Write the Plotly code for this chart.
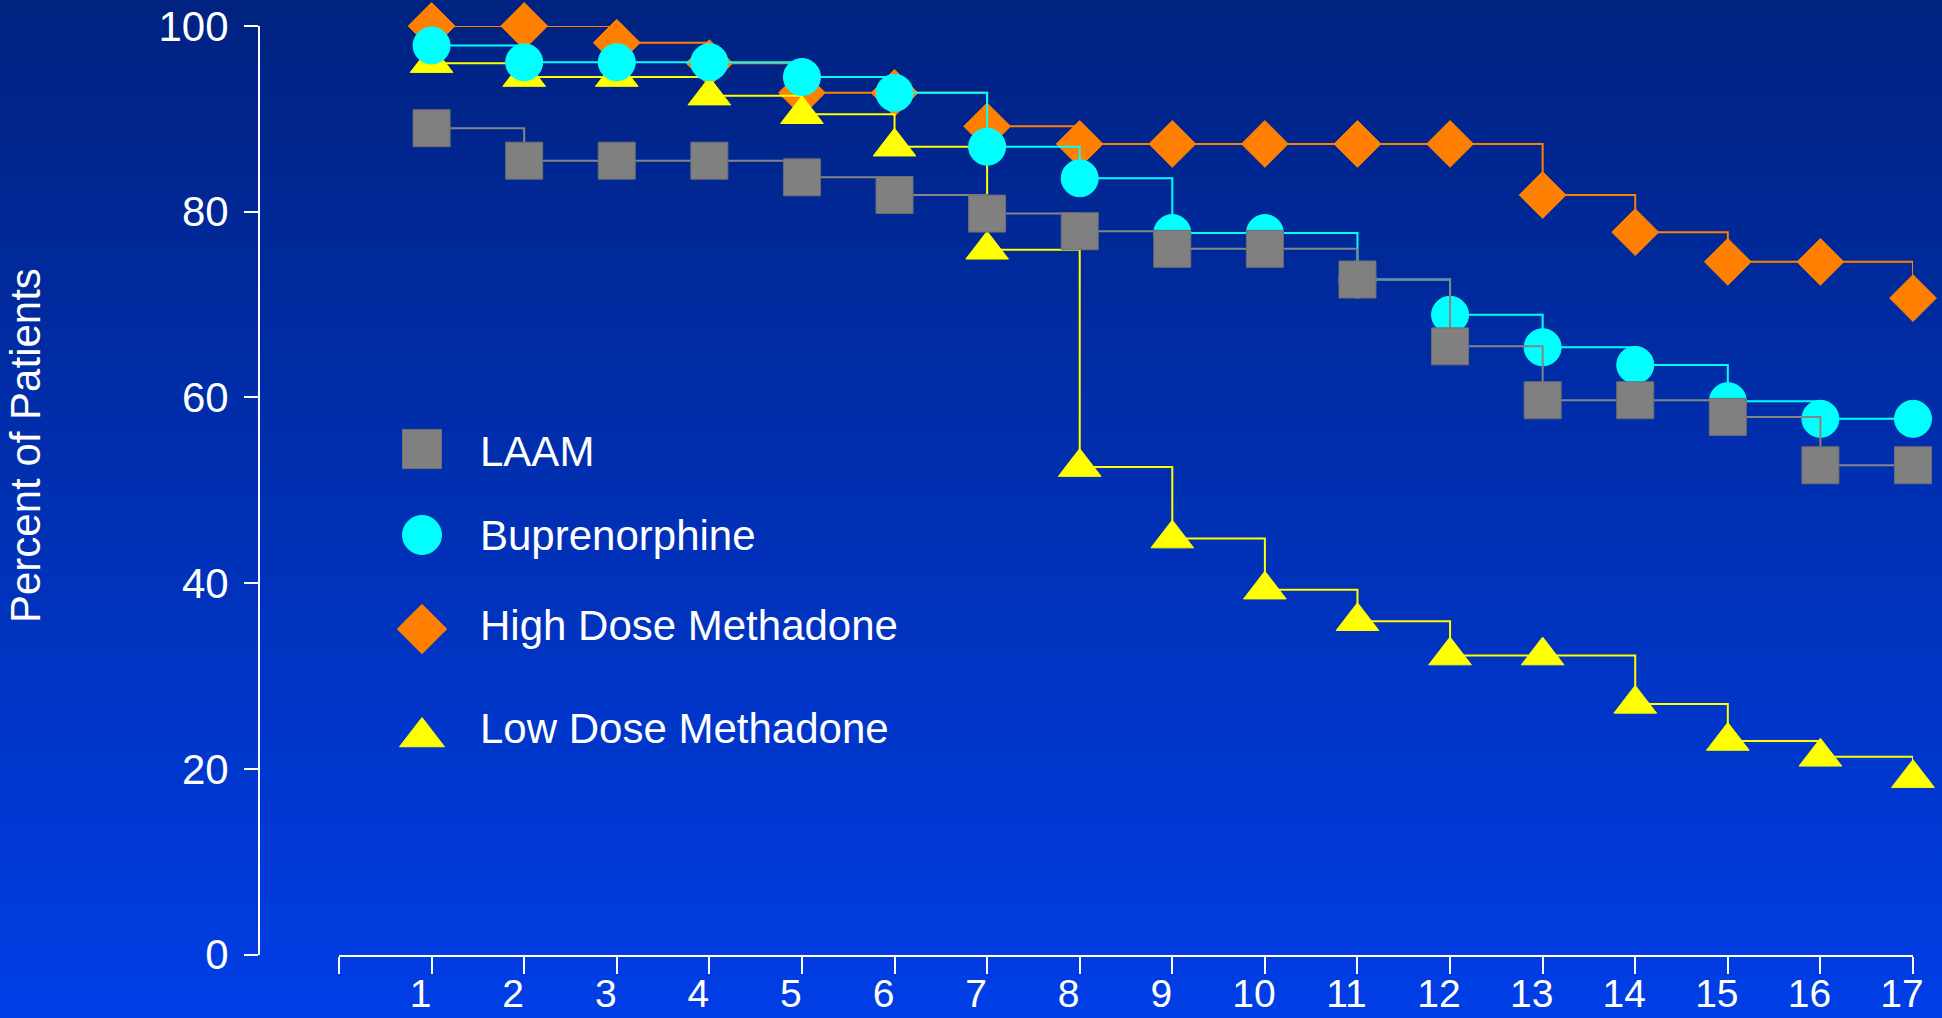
import plotly.graph_objects as go

# ---------------- data ----------------
weeks = list(range(1, 18))
tick_labels = [str(w) for w in weeks]
y_ticks = [0, 20, 40, 60, 80, 100]

laam = [89.0, 85.5, 85.5, 85.5, 83.7, 81.8, 79.8, 77.9, 76.0, 76.0,
        72.7, 65.5, 59.7, 59.7, 57.9, 52.7, 52.7]
buprenorphine = [97.9, 96.1, 96.1, 96.1, 94.5, 92.8, 87.0, 83.6, 77.7, 77.7,
                 72.7, 68.9, 65.4, 63.5, 59.6, 57.7, 57.7]
high_dose = [100.0, 100.0, 98.2, 96.0, 92.8, 92.8, 89.2, 87.3, 87.3, 87.3,
             87.3, 87.3, 81.8, 77.8, 74.6, 74.6, 70.7]
low_dose = [96.0, 94.5, 94.5, 92.5, 90.5, 87.0, 75.9, 52.5, 44.8, 39.3,
            35.9, 32.2, 32.2, 27.0, 23.0, 21.3, 19.0]

series_names = ["LAAM", "Buprenorphine", "High Dose Methadone", "Low Dose Methadone"]
y_title = "Percent of Patients"

# ---------------- styling ----------------
W, H = 1942, 1018
FONT = "Arial, 'Liberation Sans', Helvetica, sans-serif"

styles = {
    "LAAM": dict(color="#808080", line="#858585", symbol="square", size=37, outline="#6e6e6e"),
    "Buprenorphine": dict(color="#00FFFF", line="#00FFFF", symbol="circle", size=37, outline="#00FFFF"),
    "High Dose Methadone": dict(color="#FF8000", line="#FF8000", symbol="diamond", size=36, outline="#FF8000"),
    "Low Dose Methadone": dict(color="#FFFF00", line="#FFFF00", symbol="triangle-up", size=37, outline="#FFFF00"),
}
values = {
    "LAAM": laam,
    "Buprenorphine": buprenorphine,
    "High Dose Methadone": high_dose,
    "Low Dose Methadone": low_dose,
}
draw_order = ["High Dose Methadone", "Low Dose Methadone", "Buprenorphine", "LAAM"]

fig = go.Figure()

for name in draw_order:
    st = styles[name]
    fig.add_trace(go.Scatter(
        x=weeks, y=values[name], name=name, mode="lines+markers",
        line=dict(shape="hv", width=2, color=st["line"]),
        marker=dict(symbol=st["symbol"], size=st["size"], color=st["color"],
                    line=dict(color=st["outline"], width=1)),
        cliponaxis=False, showlegend=False,
        xaxis="x", yaxis="y",
    ))

# custom legend (large symbols) on a pixel-unit overlay axis
leg_x = 422
leg_sym_y = [449, 535, 629, 737]
leg_txt_y = [451, 535, 625, 728]
for name, sy in zip(series_names, leg_sym_y):
    st = styles[name]
    fig.add_trace(go.Scatter(
        x=[leg_x], y=[sy], mode="markers", showlegend=False, hoverinfo="skip",
        marker=dict(symbol=st["symbol"], size=st["size"] + 2, color=st["color"],
                    line=dict(color=st["outline"], width=1)),
        cliponaxis=False, xaxis="x2", yaxis="y2",
    ))

annotations = []
for name, ty in zip(series_names, leg_txt_y):
    annotations.append(dict(
        text=name, x=478, y=ty, xref="x2", yref="y2", xanchor="left", yanchor="middle",
        showarrow=False, font=dict(family=FONT, size=42, color="white"),
    ))
annotations.append(dict(
    text=y_title, x=25, y=446, xref="x2", yref="y2", xanchor="center", yanchor="middle",
    textangle=-90, showarrow=False, font=dict(family=FONT, size=42, color="white"),
))

# gradient background
top_c = (0, 34, 128)
bot_c = (0, 62, 230)
N = 120
shapes = []
for i in range(N):
    s = (i + 0.5) / N  # fraction from bottom
    c = tuple(round(bot_c[k] * (1 - s) + top_c[k] * s) for k in range(3))
    shapes.append(dict(
        type="rect", xref="paper", yref="paper", x0=0, x1=1,
        y0=i / N, y1=min(1, (i + 1) / N + 0.002), layer="below",
        fillcolor="rgb(%d,%d,%d)" % c, line=dict(width=0),
    ))

fig.update_layout(
    template="none",
    width=W, height=H,
    margin=dict(l=0, r=0, t=0, b=0, pad=0),
    paper_bgcolor="rgb(0,62,230)",
    plot_bgcolor="rgba(0,0,0,0)",
    font=dict(family=FONT, color="white"),
    showlegend=False,
    shapes=shapes,
    annotations=annotations,
    xaxis=dict(
        domain=[339 / W, 1913 / W], range=[0, 17], anchor="y",
        tickvals=[0] + weeks, ticktext=[""] + tick_labels,
        ticks="outside", ticklen=17, tickwidth=2, tickcolor="white",
        showline=True, linecolor="white", linewidth=2,
        showgrid=False, zeroline=False, automargin=False,
        tickfont=dict(family=FONT, size=39, color="white"),
        ticklabelshift=-11, ticklabelstandoff=-13,
    ),
    yaxis=dict(
        domain=[1 - 954.6 / H, 1 - 26 / H], range=[0, 100], anchor="free",
        position=259 / W,
        tickvals=y_ticks, ticktext=[str(v) for v in y_ticks],
        ticks="outside", ticklen=14, tickwidth=2, tickcolor="white",
        showline=True, linecolor="white", linewidth=2,
        showgrid=False, zeroline=False, automargin=False,
        tickfont=dict(family=FONT, size=42, color="white"),
        ticklabelstandoff=7,
    ),
    xaxis2=dict(domain=[0, 1], range=[0, W], anchor="y2", visible=False, fixedrange=True),
    yaxis2=dict(domain=[0, 1], range=[H, 0], anchor="x2", visible=False, fixedrange=True),
)

fig.write_html("out.html")
